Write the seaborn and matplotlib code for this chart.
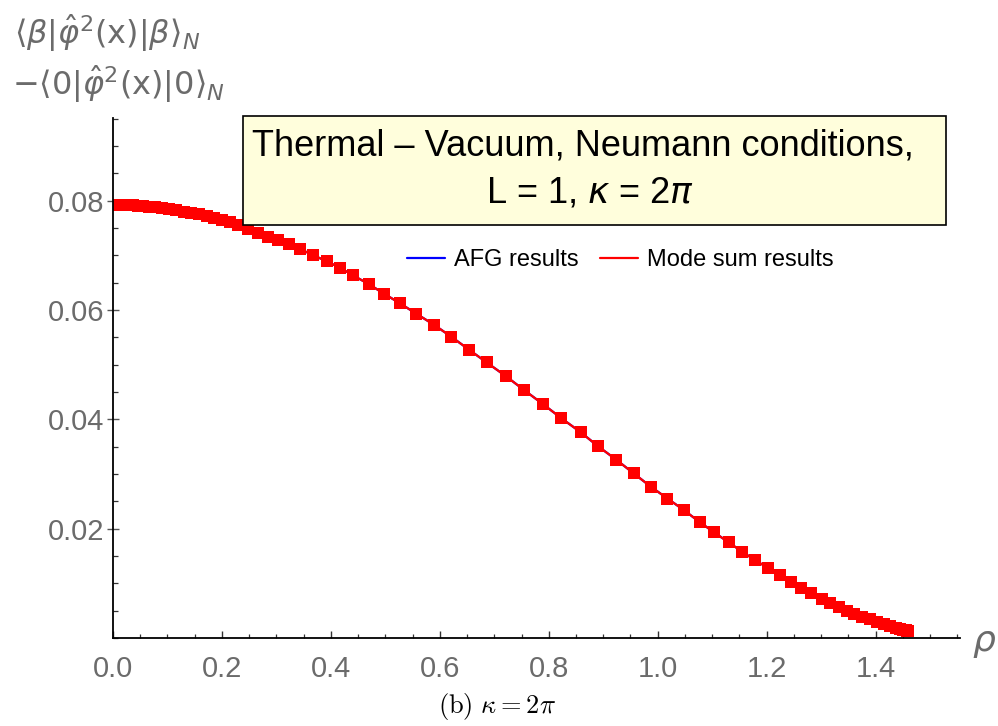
import numpy as np
import matplotlib
matplotlib.use("Agg")
import matplotlib.pyplot as plt
from matplotlib.lines import Line2D
from matplotlib.patches import Rectangle
from matplotlib.ticker import MultipleLocator, FixedLocator
import seaborn as sns

# Valores (rho, <phi^2> termico - vacio)
rho = [0.000, 0.001, 0.003, 0.006, 0.010, 0.015, 0.021, 0.028, 0.036, 0.045,
       0.055, 0.066, 0.078, 0.090, 0.103, 0.116, 0.130, 0.144, 0.158, 0.172,
       0.186, 0.200, 0.214, 0.229, 0.247, 0.266, 0.285, 0.303, 0.323, 0.344,
       0.368, 0.392, 0.417, 0.441, 0.470, 0.497, 0.527, 0.557, 0.589, 0.621,
       0.654, 0.686, 0.721, 0.754, 0.789, 0.823, 0.859, 0.890, 0.924, 0.956,
       0.987, 1.018, 1.048, 1.077, 1.104, 1.130, 1.155, 1.179, 1.203, 1.224,
       1.244, 1.264, 1.282, 1.301, 1.317, 1.333, 1.347, 1.361, 1.376, 1.389,
       1.402, 1.415, 1.427, 1.437, 1.445, 1.451, 1.455, 1.458, 1.459]
mode_sum = [0.0792, 0.0792, 0.0792, 0.0792, 0.0792, 0.0792, 0.0792, 0.0791, 0.0791, 0.0790,
            0.0790, 0.0789, 0.0788, 0.0786, 0.0785, 0.0783, 0.0780, 0.0778, 0.0775, 0.0771,
            0.0768, 0.0764, 0.0760, 0.0755, 0.0748, 0.0740, 0.0734, 0.0728, 0.0720, 0.0711,
            0.0700, 0.0689, 0.0677, 0.0663, 0.0647, 0.0630, 0.0612, 0.0593, 0.0573, 0.0551,
            0.0527, 0.0504, 0.0479, 0.0454, 0.0428, 0.0402, 0.0376, 0.0351, 0.0326, 0.0301,
            0.0277, 0.0255, 0.0234, 0.0212, 0.0193, 0.0175, 0.0158, 0.0142, 0.0128, 0.0115,
            0.0103, 0.0092, 0.0082, 0.0072, 0.0064, 0.0056, 0.0050, 0.0044, 0.0039, 0.0034,
            0.0029, 0.0025, 0.0022, 0.0019, 0.0017, 0.0015, 0.0014, 0.0013, 0.0013]
afg = list(mode_sum)  # la curva AFG coincide con la suma de modos

x_ticks = [0.0, 0.2, 0.4, 0.6, 0.8, 1.0, 1.2, 1.4]
x_ticklabels = ["0.0", "0.2", "0.4", "0.6", "0.8", "1.0", "1.2", "1.4"]
y_ticks = [0.02, 0.04, 0.06, 0.08]
y_ticklabels = ["0.02", "0.04", "0.06", "0.08"]

sns.set_style("white")
plt.rcParams['font.family'] = ['Liberation Sans', 'DejaVu Sans']

gray = "#6b6b6b"
fig = plt.figure(figsize=(9.98, 7.26), dpi=100)
ax = fig.add_axes([113 / 998, 1 - 638 / 726, 847 / 998, 520 / 726])

sns.lineplot(x=rho, y=afg, color="blue", linewidth=1.6, estimator=None, ax=ax)
sns.lineplot(x=rho, y=mode_sum, color="red", linewidth=1.6, marker="s",
             markersize=8, markeredgewidth=0, estimator=None, ax=ax)

ax.set_xlim(0, 1.555)
ax.set_ylim(0, 0.0951)
ax.xaxis.set_major_locator(FixedLocator(x_ticks))
ax.set_xticklabels(x_ticklabels)
ax.yaxis.set_major_locator(FixedLocator(y_ticks))
ax.set_yticklabels(y_ticklabels)
ax.xaxis.set_minor_locator(MultipleLocator(0.05))
ax.yaxis.set_minor_locator(MultipleLocator(0.005))
ax.tick_params(axis="x", which="major", direction="in", length=5, width=1,
               color="#333333", labelsize=21, labelcolor=gray, pad=12)
ax.tick_params(axis="x", which="minor", direction="in", length=3, width=0.9, color="#333333")
ax.tick_params(axis="y", which="major", direction="inout", length=9, width=1,
               color="#555555", labelsize=21, labelcolor=gray, pad=2)
ax.tick_params(axis="y", which="minor", direction="in", length=3.5, width=0.9, color="#333333")
ax.tick_params(bottom=True, left=True, which="both")

for s in ["top", "right"]:
    ax.spines[s].set_visible(False)
for s in ["left", "bottom"]:
    ax.spines[s].set_color("black")
    ax.spines[s].set_linewidth(1.3)

# Recuadro del titulo
ax.add_patch(Rectangle((0.1535, 0.794), 0.83, 0.21, transform=ax.transAxes,
                       facecolor="#fffedc", edgecolor="black", linewidth=1.2,
                       clip_on=False, zorder=5))
ax.text(0.555, 0.946, "Thermal \u2013 Vacuum, Neumann conditions,", transform=ax.transAxes,
        ha="center", va="center", fontsize=26, color="black", zorder=6)
ax.text(0.563, 0.856, "L = 1, $\\kappa$ = 2$\\pi$", transform=ax.transAxes,
        ha="center", va="center", fontsize=26, color="black", zorder=6,
        math_fontfamily="dejavusans")

handles = [Line2D([], [], color="blue", linewidth=1.6),
           Line2D([], [], color="red", linewidth=1.6)]
leg = ax.legend(handles, ["AFG results", "Mode sum results"], loc="center",
                bbox_to_anchor=(0.599, 0.727), ncol=2, frameon=False, fontsize=17,
                handlelength=1.6, handletextpad=0.4, columnspacing=0.9)
for t in leg.get_texts():
    t.set_color("black")

# Etiquetas de ejes
fig.text(14 / 998, 1 - 33 / 726, r"$\langle\beta|\hat{\varphi}^2(\mathrm{x})|\beta\rangle_N$",
         ha="left", va="center", fontsize=23, color=gray, math_fontfamily="dejavusans")
fig.text(12 / 998, 1 - 84 / 726, r"$-\langle 0|\hat{\varphi}^2(\mathrm{x})|0\rangle_N$",
         ha="left", va="center", fontsize=23, color=gray, math_fontfamily="dejavusans")
fig.text(984 / 998, 1 - 642 / 726, r"$\rho$", ha="center", va="center",
         fontsize=26, color=gray, math_fontfamily="dejavusans")

fig.text(497 / 998, 1 - 706 / 726, r"$\mathrm{(b)}\ \kappa = 2\pi$", ha="center", va="center",
         fontsize=19, color="black", math_fontfamily="cm")

plt.savefig("out.png", dpi=100)
